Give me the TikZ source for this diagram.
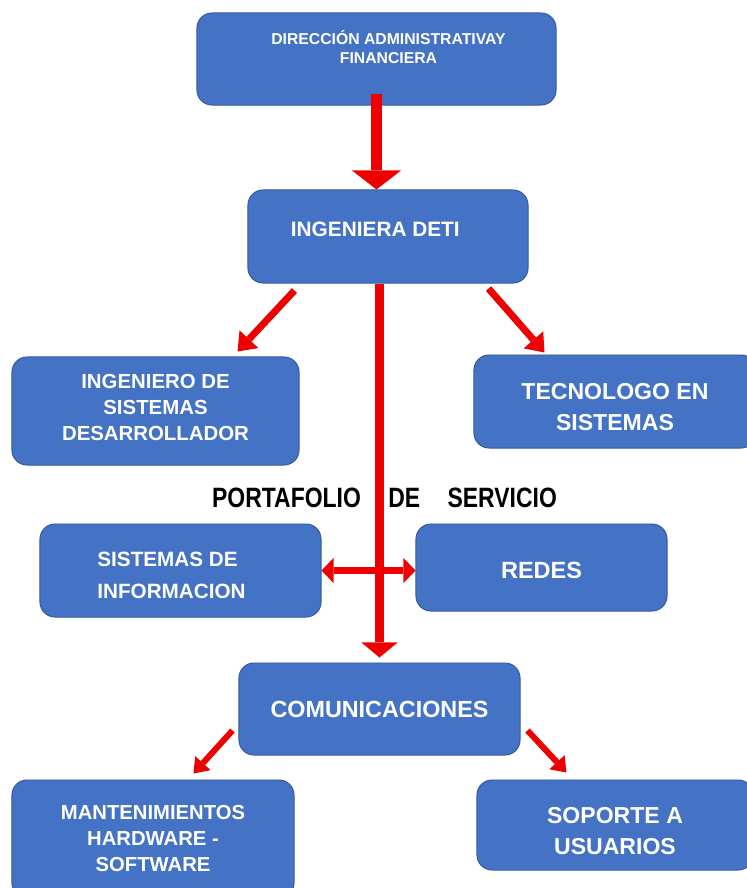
\documentclass[tikz,border=0pt]{standalone}
\usepackage{fontspec}
\setmainfont{Liberation Sans}
\newfontfamily\narrowfont{Liberation Sans}[FakeStretch=0.82]
\usetikzlibrary{arrows.meta,calc}
\definecolor{boxblue}{RGB}{68,114,196}
\definecolor{boxline}{RGB}{52,90,160}
\definecolor{arrowred}{RGB}{238,0,0}

\begin{document}
\begin{tikzpicture}[x=0.025cm, y=-0.025cm]
    \useasboundingbox (0,0) rectangle (746,888);
    \begin{scope}[
        mybox/.style={rectangle, rounded corners=0.375cm, draw=boxline, line width=0.7pt, fill=boxblue, text=white, align=center, inner sep=0pt},
        mylabel/.style={text=black, font=\narrowfont\bfseries\fontsize{19.9}{22}\selectfont},
        mybigarrow/.style={draw=arrowred, line width=0.275cm, -{Triangle[width=1.225cm, length=0.475cm, line width=0pt]}},
        mymainarrow/.style={draw=arrowred, line width=0.24cm, -{Triangle[width=0.9cm, length=0.375cm, line width=0pt]}},
        myarrow/.style={draw=arrowred, line width=0.175cm, -{Triangle[width=0.65cm, length=0.42cm, line width=0pt]}},
        mydblarrow/.style={draw=arrowred, line width=0.19cm, {Triangle[width=0.625cm, length=0.3cm, line width=0pt]}-{Triangle[width=0.625cm, length=0.3cm, line width=0pt]}},
        mysmallarrow/.style={draw=arrowred, line width=0.15cm, -{Triangle[width=0.52cm, length=0.35cm, line width=0pt]}}]
    \node [mybox, minimum width=8.975cm, minimum height=2.3cm, text depth=16.4pt, font=\bfseries\fontsize{11.2}{13.5}\selectfont] (dir) at (376.5,59)
        {\hspace*{17pt}DIRECCIÓN ADMINISTRATIVAY\\\hspace*{17pt}FINANCIERA};
    \node [mybox, minimum width=7cm, minimum height=2.325cm, text depth=10pt, font=\bfseries\fontsize{14.8}{18}\selectfont] (ing) at (388,236.5)
        {INGENIERA DETI\hspace*{18pt}};
    % left branch
    \node [mybox, minimum width=7.175cm, minimum height=2.7cm, text depth=5.7pt, font=\bfseries\fontsize{14.5}{18.5}\selectfont] (dev) at (155.5,411)
        {INGENIERO DE\\SISTEMAS\\DESARROLLADOR};
    \node [mybox, minimum width=7.025cm, minimum height=2.325cm, align=left, text height=40.6pt, font=\bfseries\fontsize{14.7}{22.8}\selectfont] (sis) at (180.5,570.5)
        {SISTEMAS DE\\INFORMACION\hspace*{12.8pt}};
    \node [mybox, minimum width=7.05cm, minimum height=2.95cm, font=\bfseries\fontsize{14.4}{18.5}\selectfont] (man) at (153,839)
        {MANTENIMIENTOS\\HARDWARE -\\SOFTWARE};
    % right branch
    \node [mybox, minimum width=7.05cm, minimum height=2.325cm, text height=41.1pt, font=\bfseries\fontsize{16.4}{22}\selectfont] (tec) at (615,401.5)
        {TECNOLOGO EN\\SISTEMAS};
    \node [mybox, minimum width=6.275cm, minimum height=2.175cm, text height=15.8pt, font=\bfseries\fontsize{16.7}{20}\selectfont] (red) at (541.5,567.5)
        {REDES};
    \node [mybox, minimum width=6.9cm, minimum height=2.25cm, text height=42.5pt, font=\bfseries\fontsize{16.4}{22}\selectfont] (sop) at (615,825)
        {SOPORTE A\\USUARIOS};
    % middle
    \node [mybox, minimum width=7.025cm, minimum height=2.3cm, font=\bfseries\fontsize{16.6}{20}\selectfont] (com) at (379.5,709)
        {COMUNICACIONES};
    \node [mylabel] (portafolio) at (384.5,498) {PORTAFOLIO\hspace{19.5pt}DE\hspace{19.5pt}SERVICIO};
    % arrows
    \draw [mybigarrow] ($(dir.south)+(0,-12)$) -- (dir.south |- ing.north);
    \draw [mymainarrow, shorten >=0.125cm] (ing.south -| com.north) -- (com.north);
    \draw [myarrow] ($(ing.south west)+(47,7)$) -- ($(dev.north east)+(-62,-5)$);
    \draw [myarrow] ($(ing.south east)+(-40,5)$) -- ($(tec.north west)+(71,-2)$);
    \draw [mydblarrow] (sis.east) -- (sis.east -| red.west);
    \draw [mysmallarrow] ($(com.south west)+(-6,-25)$) -- ($(man.north west)+(182,-6)$);
    \draw [mysmallarrow] ($(com.south east)+(7,-25)$) -- ($(sop.north west)+(90,-7)$);
    \end{scope}
\end{tikzpicture}
\end{document}
